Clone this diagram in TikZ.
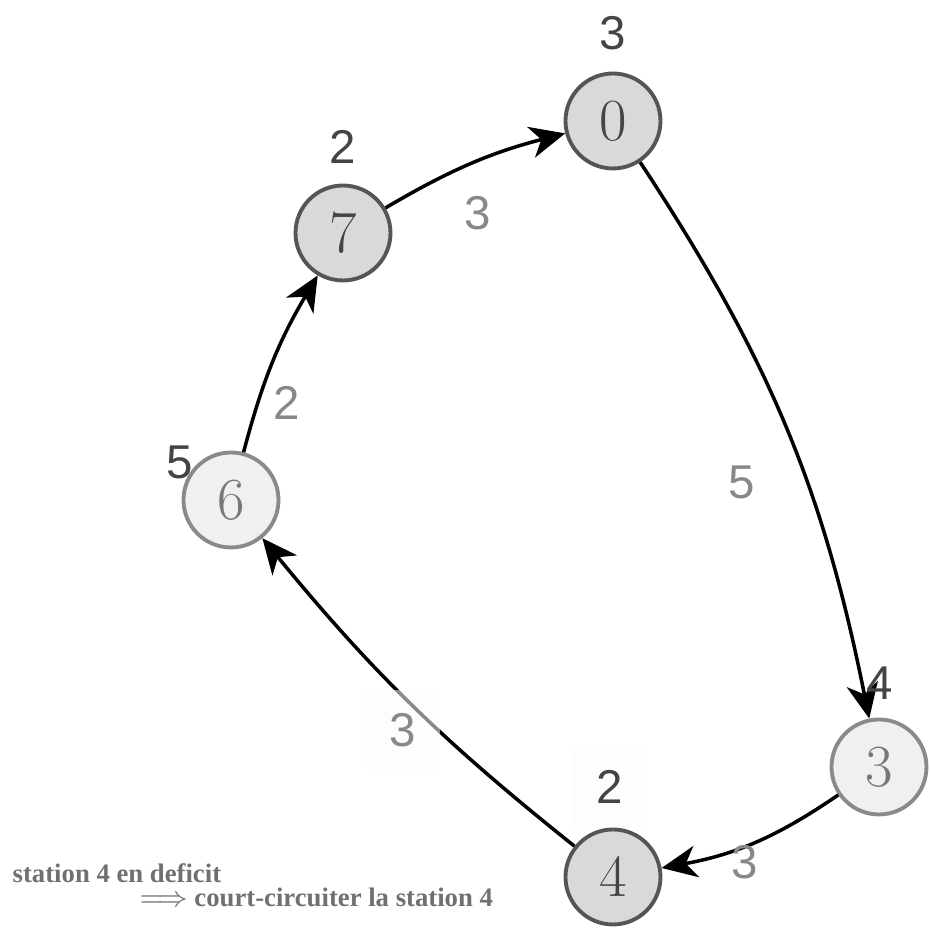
\documentclass[tikz,border=0pt]{standalone}
\usepackage{amsmath}
\usepackage{amssymb}
\usepackage{fontspec}
\newfontfamily\labelfont{Liberation Sans}
\newfontfamily\notefont{Liberation Serif}
\usepackage{tikz}
\usetikzlibrary{shapes,arrows.meta,positioning}
\definecolor{darkfill}{HTML}{D9D9D9}
\definecolor{darkline}{HTML}{555555}
\definecolor{darktext}{HTML}{444444}
\definecolor{lightfill}{HTML}{F0F0F0}
\definecolor{lightline}{HTML}{8A8A8A}
\definecolor{lighttext}{HTML}{777777}
\definecolor{costgray}{HTML}{888888}
\definecolor{notegray}{HTML}{707070}

\begin{document}
\begin{tikzpicture}[station/.style={circle,draw=darkline,fill=darkfill,text=darktext,line width=1.1pt,minimum size=.95cm,inner sep=0pt,font=\fontsize{17}{17}\selectfont},
lowstation/.style={station,draw=lightline,fill=lightfill,text=lighttext},
supply/.style={text=darktext,inner sep=0pt,font=\labelfont\fontsize{13.5}{13.5}\selectfont},
cost/.style={text=costgray,inner sep=0pt,font=\labelfont\fontsize{13.5}{13.5}\selectfont},
faint/.style={fill=black!1.5,fill opacity=.55,text opacity=1,minimum width=.74cm,minimum height=.8cm},
arc/.style={line width=1pt,-{Stealth[length=10pt,width=9pt,inset=3pt]}},
note/.style={text=notegray,inner sep=0pt,align=left,anchor=north west,font=\notefont\fontsize{7.6}{6.6}\selectfont\bfseries}]
\useasboundingbox (0,0) rectangle (9.31,9.30);
\node[station] (0) at (6.13,8.09) {0};
\node[station] (7) at (3.43,6.97) {7};
\node[lowstation] (6) at (2.31,4.30) {6};
\node[lowstation] (3) at (8.79,1.63) {3};
\node[station] (4) at (6.13,0.53) {4};

\draw[arc] (7) to[bend left=8] (0);
\draw[arc] (0) to[bend left=11] (3);
\draw[arc] (3) to[bend left=12] (4);
\draw[arc] (4) to[bend left=6] (6);
\draw[arc] (6) to[bend left=8] (7);

\node[supply] (s0) at (6.13,8.97) {3};
\node[supply] (s7) at (3.43,7.83) {2};
\node[supply] (s6) at (1.80,4.68) {5};
\node[supply] (s3) at (8.80,2.47) {4};
\node[supply,faint] (s4) at (6.10,1.43) {2};

\node[cost] (c70) at (4.78,7.17) {3};
\node[cost] (c03) at (7.42,4.48) {5};
\node[cost] (c34) at (7.45,0.68) {3};
\node[cost,faint] (c46) at (4.03,2.00) {3};
\node[cost] (c67) at (2.87,5.27) {2};

\node[note] (deficit) at (0.12,0.665) {station 4 en deficit\\
\hspace*{1.27cm}{\fontsize{8}{8}\selectfont$\Longrightarrow$} court-circuiter la station 4};
\end{tikzpicture}
\end{document}
